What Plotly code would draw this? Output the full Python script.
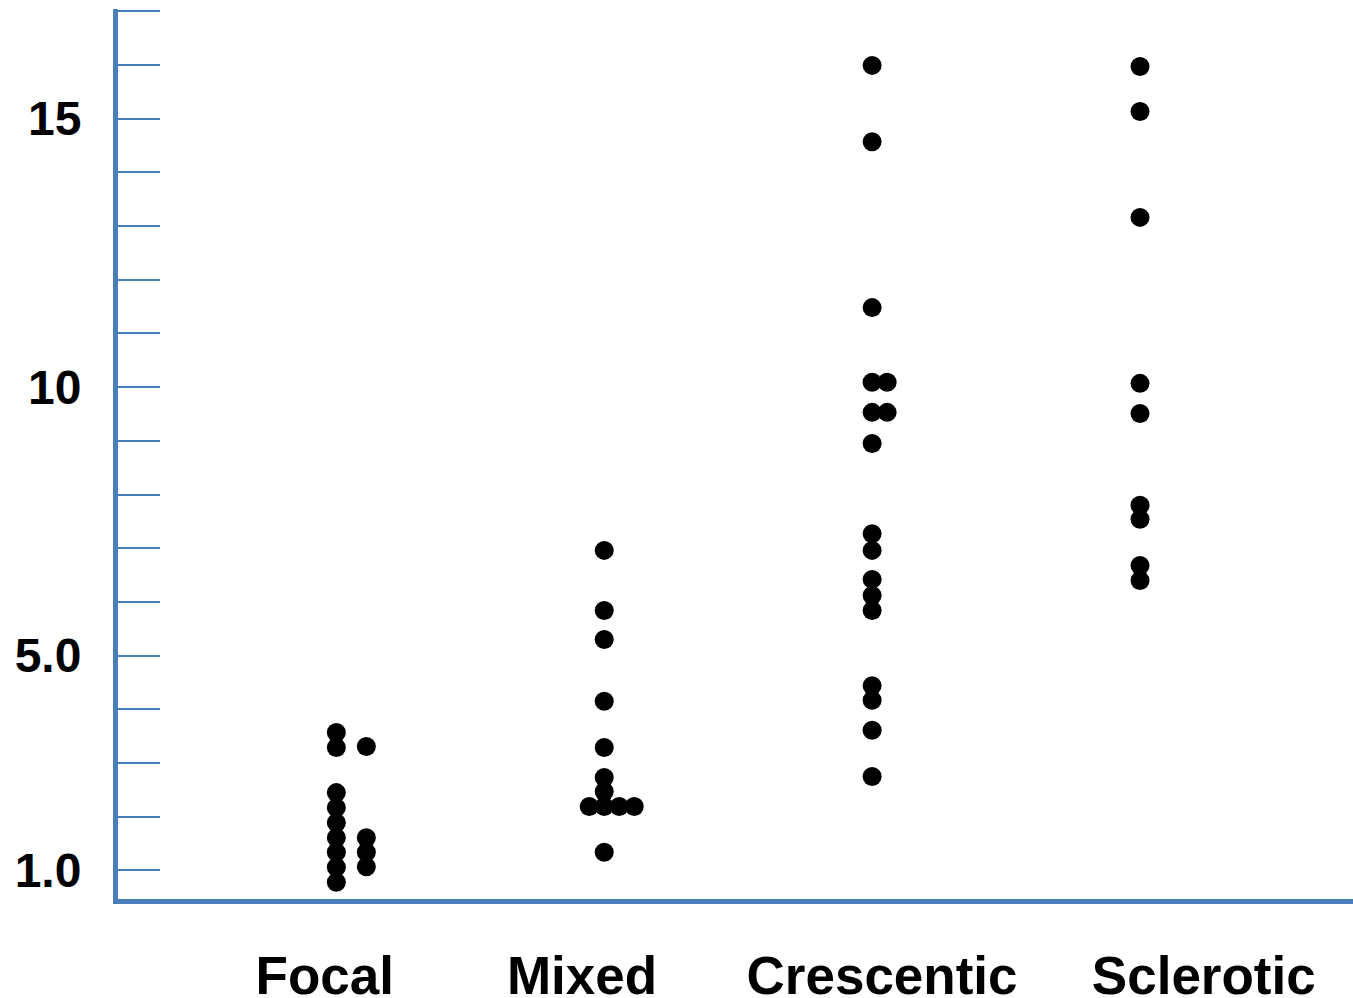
import plotly.graph_objects as go

# ---- data ----
categories = ["Focal", "Mixed", "Crescentic", "Sclerotic"]

focal_values = [3.57, 3.29, 2.45, 2.17, 1.89, 1.61, 1.34, 1.06, 0.78,
                3.31, 1.61, 1.34, 1.07]
focal_steps = [0, 0, 0, 0, 0, 0, 0, 0, 0,
               2, 2, 2, 2]

mixed_values = [6.96, 5.84, 5.30, 4.15, 3.29, 2.73, 2.47,
                2.19, 2.19, 2.19, 2.19, 1.34]
mixed_steps = [0, 0, 0, 0, 0, 0, 0,
               -1, 0, 1, 2, 0]

crescentic_values = [15.99, 14.57, 11.48, 10.09, 10.09, 9.53, 9.53, 8.95,
                     7.27, 6.96, 6.42, 6.12, 5.84, 4.44, 4.17, 3.61, 2.75]
crescentic_steps = [0, 0, 0, 0, 1, 0, 1, 0,
                    0, 0, 0, 0, 0, 0, 0, 0, 0]

sclerotic_values = [15.97, 15.13, 13.16, 10.07, 9.51, 7.80, 7.54, 6.68, 6.40]
sclerotic_steps = [0, 0, 0, 0, 0, 0, 0, 0, 0]

y_tick_values = list(range(1, 18))
y_tick_labels = {1: "1.0", 5: "5.0", 10: "10", 15: "15"}

# ---- figure ----
BLUE = "#4A7EBB"
STEP = 0.056  # horizontal spacing of stacked dots, in category units

groups = [
    (focal_values, focal_steps),
    (mixed_values, mixed_steps),
    (crescentic_values, crescentic_steps),
    (sclerotic_values, sclerotic_steps),
]

fig = go.Figure()
for i, (vals, steps) in enumerate(groups):
    fig.add_trace(go.Scatter(
        x=[i + s * STEP for s in steps],
        y=vals,
        mode="markers",
        marker=dict(size=19, color="black", line=dict(width=0)),
        name=categories[i],
        showlegend=False,
        hoverinfo="skip",
    ))

font_family = "Liberation Sans, Arial, sans-serif"

fig.update_layout(
    width=1353,
    height=998,
    margin=dict(l=118, r=0, t=9, b=99, autoexpand=False),
    paper_bgcolor="white",
    plot_bgcolor="white",
    showlegend=False,
    font=dict(family=font_family, color="black"),
)

fig.update_xaxes(
    range=[-0.815, 3.795],
    showgrid=False,
    zeroline=False,
    showline=True,
    linecolor=BLUE,
    linewidth=5,
    ticks="",
    tickmode="array",
    tickvals=[-0.043, 0.917, 2.037, 3.238],
    ticktext=categories,
    tickfont=dict(size=53, family=font_family, color="black", weight="bold"),
    ticklabelstandoff=26,
    automargin=False,
)

fig.update_yaxes(
    range=[0.469, 17.04],
    showgrid=False,
    zeroline=False,
    showline=True,
    linecolor=BLUE,
    linewidth=5,
    ticks="inside",
    ticklen=42,
    tickwidth=1.5,
    tickcolor=BLUE,
    tickmode="array",
    tickvals=y_tick_values,
    ticktext=[y_tick_labels.get(v, "") for v in y_tick_values],
    tickfont=dict(size=48, family=font_family, color="black", weight="bold"),
    ticklabelstandoff=22,
    automargin=False,
)

fig.write_html(
    "out.html",
    config=dict(displayModeBar=False),
    post_script="document.body.style.margin='0';document.body.style.overflow='hidden';",
)
